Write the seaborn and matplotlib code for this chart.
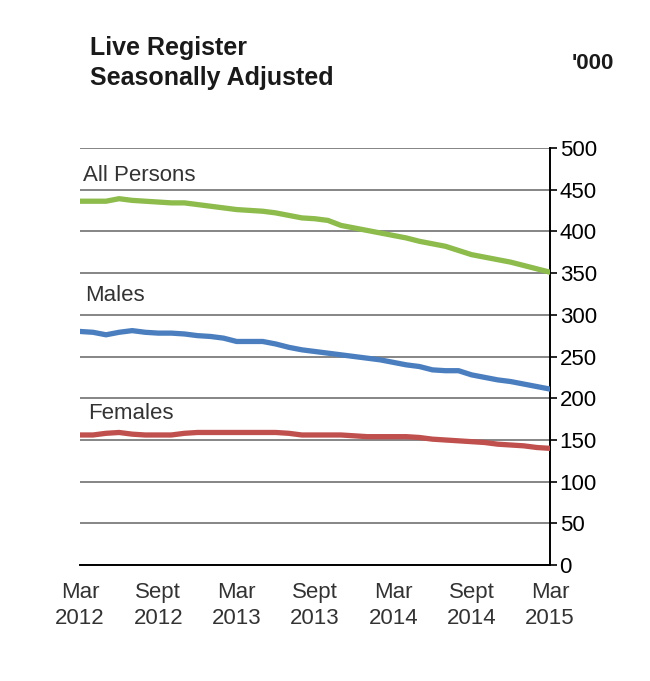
import matplotlib.pyplot as plt
import seaborn as sns
import pandas as pd

# monthly, Mar 2012 .. Mar 2015 ('000, seasonally adjusted)
all_persons = [436, 436, 436, 439, 437, 436, 435, 434, 434, 432, 430, 428, 426,
               425, 424, 422, 419, 416, 415, 413, 407, 404, 401, 398, 395,
               392, 388, 385, 382, 377, 372, 369, 366, 363, 359, 355, 351]
males = [280, 279, 276, 279, 281, 279, 278, 278, 277, 275, 274, 272, 268,
         268, 268, 265, 261, 258, 256, 254, 252, 250, 248, 246, 243,
         240, 238, 234, 233, 233, 228, 225, 222, 220, 217, 214, 211]
females = [156, 156, 158, 159, 157, 156, 156, 156, 158, 159, 159, 159, 159,
           159, 159, 159, 158, 156, 156, 156, 156, 155, 154, 154, 154,
           154, 153, 151, 150, 149, 148, 147, 145, 144, 143, 141, 140]
series_names = ['All Persons', 'Males', 'Females']
tick_labels = ['Mar\n2012', 'Sept\n2012', 'Mar\n2013', 'Sept\n2013',
               'Mar\n2014', 'Sept\n2014', 'Mar\n2015']
y_ticks = [0, 50, 100, 150, 200, 250, 300, 350, 400, 450, 500]

months = list(range(len(all_persons)))
df = pd.DataFrame({
    'month': months * 3,
    'value': all_persons + males + females,
    'series': sum([[n] * len(months) for n in series_names], []),
})

sns.set_style('white')
plt.rcParams['font.family'] = ['Liberation Sans', 'DejaVu Sans']

fig = plt.figure(figsize=(6.5, 6.81), dpi=100)
ax = fig.add_axes([0.123, 0.170, 0.723, 0.613])

for y in y_ticks:
    ax.axhline(y, color='#858585', lw=1.4, zorder=1)

pal = {'All Persons': '#8dbb4c', 'Males': '#4a7ebf', 'Females': '#c0504d'}
sns.lineplot(data=df, x='month', y='value', hue='series', palette=pal,
             lw=3.8, ax=ax, legend=False, zorder=3)

ax.set_xlim(0, 36)
ax.set_ylim(0, 500)
ax.set_xticks(range(0, 37, 6))
ax.set_xticklabels(tick_labels, fontsize=16, color='#333333', linespacing=1.35)
ax.yaxis.tick_right()
ax.set_yticks(y_ticks)
ax.tick_params(axis='y', labelsize=16, direction='out', length=5, width=1.2,
               colors='black', pad=2)
ax.tick_params(axis='x', direction='out', length=6, width=1.2, pad=6)
ax.set_xlabel('')
ax.set_ylabel('')
for s in ['top', 'left']:
    ax.spines[s].set_visible(False)
for s in ['bottom', 'right']:
    ax.spines[s].set_color('black')
    ax.spines[s].set_linewidth(1.4)

# series labels
ax.text(0.25, 460, 'All Persons', fontsize=16, color='#333333', va='baseline')
ax.text(0.4, 316, 'Males', fontsize=16, color='#333333', va='baseline')
ax.text(0.6, 175, 'Females', fontsize=16, color='#333333', va='baseline')

fig.text(0.138, 0.875, 'Live Register\nSeasonally Adjusted', fontsize=18,
         fontweight='bold', color='#1a1a1a', linespacing=1.3, va='baseline')
fig.text(0.88, 0.898, "'000", fontsize=16, fontweight='bold', color='#1a1a1a',
         va='baseline')

fig.savefig('out.png', dpi=100)
